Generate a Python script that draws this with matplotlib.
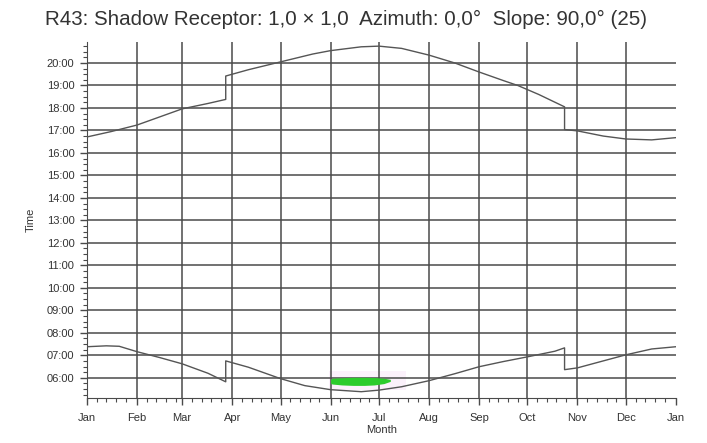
import matplotlib
matplotlib.use("Agg")
import matplotlib.pyplot as plt
from matplotlib.ticker import FixedLocator, MultipleLocator, FuncFormatter

# month boundaries (day of year) and labels
month_start = [0, 31, 59, 90, 120, 151, 181, 212, 243, 273, 304, 334, 365]
month_labels = ['Jan', 'Feb', 'Mar', 'Apr', 'May', 'Jun', 'Jul', 'Aug',
                'Sep', 'Oct', 'Nov', 'Dec', 'Jan']

# sunset (upper curve), hours
sunset_day = [0, 15, 31, 45, 59, 75, 86, 86, 100, 120, 140, 151, 170, 181,
              195, 212, 228, 243, 258, 267, 280, 296, 296, 304, 320, 334, 350, 365]
sunset_hour = [16.71, 16.95, 17.24, 17.6, 17.96, 18.2, 18.38, 19.42, 19.7, 20.05,
               20.4, 20.55, 20.72, 20.75, 20.65, 20.35, 20.0, 19.6, 19.22, 19.0,
               18.6, 18.05, 17.04, 16.98, 16.75, 16.62, 16.58, 16.68]

# sunrise (lower curve), hours
sunrise_day = [0, 12, 20, 31, 45, 59, 75, 86, 86, 100, 120, 135, 151, 170, 181,
               195, 212, 228, 243, 258, 273, 290, 296, 296, 304, 320, 334, 350, 365]
sunrise_hour = [7.38, 7.42, 7.4, 7.16, 6.9, 6.62, 6.2, 5.82, 6.75, 6.47, 5.96,
                5.65, 5.47, 5.38, 5.45, 5.6, 5.87, 6.18, 6.49, 6.72, 6.93, 7.18,
                7.33, 6.36, 6.44, 6.75, 7.02, 7.28, 7.38]

# shadow period (green)
shadow_day = [151, 152, 158, 165, 172, 178, 184, 188]
shadow_start = [5.76, 5.72, 5.68, 5.66, 5.66, 5.68, 5.74, 5.84]
shadow_end = [5.93, 5.98, 6.0, 6.02, 6.02, 6.01, 5.98, 5.93]

plt.rcParams['font.family'] = ['Liberation Sans', 'DejaVu Sans']

fig = plt.figure(figsize=(7.07, 4.43), dpi=100)
ax = fig.add_axes([0.123, 0.1016, 0.833, 0.8034])

ax.set_xlim(0, 365)
ax.set_ylim(5.1, 20.93)

# faint halo around the shadow area
ax.fill_between([150, 198], [5.45, 5.45], [6.3, 6.3], color='#fbf1fb', lw=0, zorder=0)

# grid
for d in month_start[1:-1]:
    ax.axvline(d, color='#4a4a4a', lw=1.1, zorder=1)
for h in range(6, 21):
    ax.axhline(h, color='#4a4a4a', lw=1.1, zorder=1)

ax.fill_between(shadow_day, shadow_start, shadow_end, color='#2ccc2c', lw=0, zorder=2)

ax.plot(sunset_day, sunset_hour, color='#555555', lw=1.0, zorder=3)
ax.plot(sunrise_day, sunrise_hour, color='#555555', lw=1.0, zorder=3)

ax.spines['top'].set_visible(False)
ax.spines['right'].set_visible(False)
ax.spines['left'].set_color('#4a4a4a')
ax.spines['bottom'].set_color('#4a4a4a')

ax.xaxis.set_major_locator(FixedLocator(month_start))
ax.set_xticklabels(month_labels)
minor_x = []
for m in range(12):
    for k in (6, 12, 18, 24):
        minor_x.append(month_start[m] + k)
ax.xaxis.set_minor_locator(FixedLocator(minor_x))

ax.yaxis.set_major_locator(MultipleLocator(1))
ax.yaxis.set_minor_locator(MultipleLocator(0.25))
ax.yaxis.set_major_formatter(FuncFormatter(lambda v, p: f'{int(round(v)):02d}:00'))

ax.tick_params(axis='both', which='major', length=5, width=1, color='#4a4a4a',
               labelsize=8, labelcolor='#333333', pad=4)
ax.tick_params(axis='both', which='minor', length=3, width=0.8, color='#4a4a4a')
ax.tick_params(axis='x', pad=6)

ax.set_xlabel('Month', fontsize=8, color='#333333', labelpad=1)
ax.set_ylabel('Time', fontsize=8, color='#333333', labelpad=8)

fig.text(0.489, 0.957, 'R43: Shadow Receptor: 1,0 \u00d7 1,0  Azimuth: 0,0\u00b0  Slope: 90,0\u00b0 (25)',
         ha='center', va='center', fontsize=14.8, color='#333333')

fig.savefig('out.png', dpi=100)
